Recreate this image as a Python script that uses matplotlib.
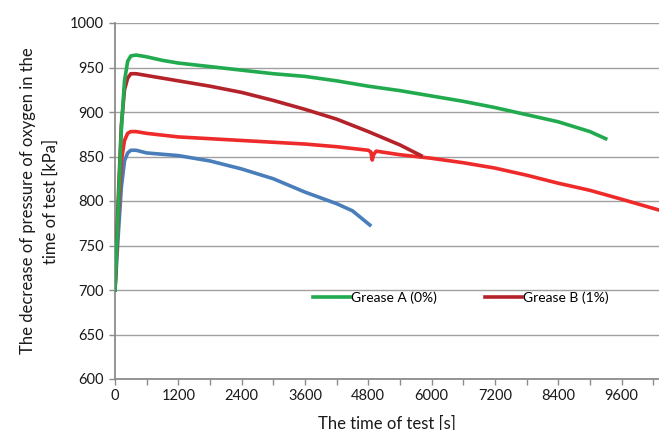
import matplotlib
matplotlib.use("Agg")
import matplotlib.pyplot as plt
from matplotlib.ticker import MultipleLocator, FixedLocator

# Grease A (0%) - green
t_a = [0, 60, 120, 180, 240, 300, 400, 600, 900, 1200, 1800, 2400, 3000, 3600,
       4200, 4800, 5400, 6000, 6600, 7200, 7800, 8400, 9000, 9300]
p_a = [700, 790, 880, 935, 957, 963, 964, 962, 958, 955, 951, 947, 943, 940,
       935, 929, 924, 918, 912, 905, 897, 889, 878, 870]

# Grease B (1%) - dark red
t_b = [0, 60, 120, 180, 240, 300, 400, 600, 900, 1200, 1800, 2400, 3000, 3600,
       4200, 4800, 5400, 5800]
p_b = [700, 800, 885, 925, 938, 943, 943, 941, 938, 935, 929, 922, 913, 903,
       892, 878, 863, 851]

# unlabelled red series
t_r = [0, 60, 120, 180, 240, 300, 400, 600, 1200, 1800, 2400, 3000, 3600, 4200,
       4800, 4850, 4875, 4900, 4950, 5400, 6000, 6600, 7200, 7800, 8400, 9000,
       9600, 10300]
p_r = [700, 780, 845, 868, 876, 878, 878, 876, 872, 870, 868, 866, 864, 861,
       857, 855, 846, 852, 856, 852, 848, 843, 837, 829, 820, 812, 802, 790]

# unlabelled blue series
t_c = [0, 60, 120, 180, 240, 300, 400, 600, 1200, 1800, 2400, 3000, 3600, 4200,
       4500, 4830]
p_c = [700, 760, 815, 845, 854, 857, 857, 854, 851, 845, 836, 825, 810, 797,
       789, 773]

x_labels = [0, 1200, 2400, 3600, 4800, 6000, 7200, 8400, 9600]

plt.rcParams['font.family'] = ['Lato', 'DejaVu Sans']

fig = plt.figure(figsize=(6.59, 4.30), dpi=100)
ax = fig.add_axes([115 / 659, 1 - 379 / 430, 1 - 115 / 659, (379 - 23) / 430])

lw = 2.6
ax.plot(t_c, p_c, color='#4a7ebb', lw=lw, zorder=3)
ax.plot(t_r, p_r, color='#ee2a2a', lw=lw, zorder=3)
ax.plot(t_b, p_b, color='#b5232a', lw=lw, zorder=4, label='Grease B (1%)')
ax.plot(t_a, p_a, color='#22aa4f', lw=lw, zorder=4, label='Grease A (0%)')

ax.set_xlim(0, 10310)
ax.set_ylim(600, 1000)
ax.yaxis.set_major_locator(MultipleLocator(50))
ax.xaxis.set_major_locator(FixedLocator(x_labels))
ax.xaxis.set_minor_locator(MultipleLocator(600))
ax.grid(axis='y', color='#a0a0a0', lw=1.0, zorder=0)

for s in ['top', 'right']:
    ax.spines[s].set_visible(False)
for s in ['left', 'bottom']:
    ax.spines[s].set_color('#8c8c8c')
    ax.spines[s].set_linewidth(1.3)

ax.tick_params(axis='both', which='both', color='#8c8c8c', direction='out',
               labelsize=10.5, labelcolor='#1a1a1a')
ax.tick_params(axis='y', length=4, width=1.0, pad=4)
ax.tick_params(axis='x', which='major', length=4, width=1.0, pad=3)
ax.tick_params(axis='x', which='minor', length=4, width=1.0)

ax.set_xlabel('The time of test [s]', fontsize=12, color='#1a1a1a', labelpad=9)
ax.set_ylabel('The decrease of pressure of oxygen in the\ntime of test [kPa]',
              fontsize=12, color='#1a1a1a', labelpad=8, linespacing=1.5)

handles, labels = ax.get_legend_handles_labels()
ax.legend(handles[::-1], labels[::-1], loc='center', bbox_to_anchor=(0.636, 0.2275),
          ncol=2, frameon=False, fontsize=10, handlelength=2.6, handletextpad=0.1,
          columnspacing=3.5)

fig.savefig('out.png', dpi=100)
